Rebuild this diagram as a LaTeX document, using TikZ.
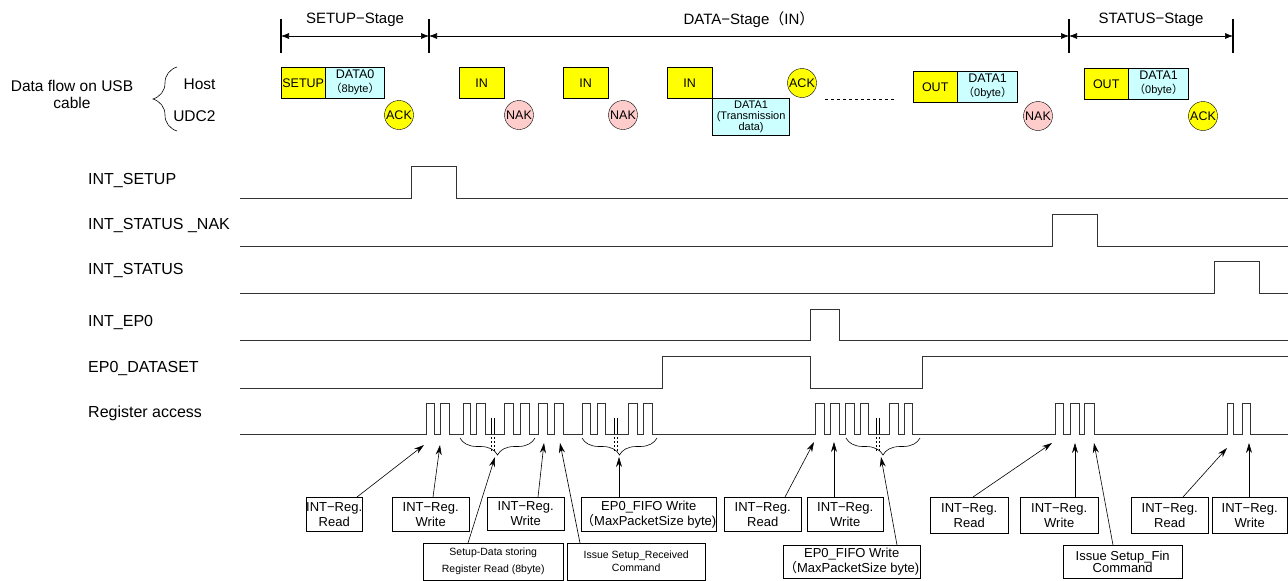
\documentclass[tikz,border=0pt]{standalone}
\usepackage{fontspec}
\setmainfont{Liberation Sans}
\newfontfamily\jpfont{Noto Sans CJK JP}
\usetikzlibrary{arrows.meta, decorations.pathreplacing}

\definecolor{TokenYellow}{RGB}{255,255,0}
\definecolor{DataCyan}{RGB}{204,255,255}
\definecolor{NakPink}{RGB}{255,204,204}
\colorlet{WaveColor}{black!80}

\newcommand{\fwparen}[1]{{\jpfont （}#1{\jpfont ）}}

\tikzset{
    token/.style     = {draw, fill=TokenYellow, anchor=north west, inner sep=0pt,
                        minimum height=31pt, font=\fontsize{12.5}{14}\selectfont},
    datapkt/.style   = {draw, fill=DataCyan, anchor=north west, inner sep=0pt,
                        minimum height=31pt, align=center, font=\fontsize{12.5}{14}\selectfont},
    handshake/.style = {draw, circle, inner sep=0pt, minimum size=29pt,
                        font=\fontsize{12.5}{14}\selectfont},
    stagebar/.style  = {line width=1.6pt},
    dimline/.style   = {{Latex[length=8pt, width=6pt]}-{Latex[length=8pt, width=6pt]}, line width=0.6pt},
    stagename/.style = {midway, yshift=16pt, font=\fontsize{15}{17}\selectfont},
    signame/.style   = {anchor=west, inner sep=0pt, font=\fontsize{16}{18}\selectfont},
    wave/.style      = {draw=WaveColor, line width=0.9pt},
    regbrace/.style  = {decorate, decoration={brace, amplitude=17pt}, line width=0.6pt},
    regbox/.style    = {draw, fill=white, anchor=north west, inner sep=0pt, minimum height=34pt,
                        align=center, font=\fontsize{13}{15}\selectfont},
    ptr/.style       = {-{Stealth[length=10pt, width=6pt]}, line width=0.6pt},
}

\begin{document}
\begin{tikzpicture}[x=1pt, y=-1pt]
    \useasboundingbox (0,0) rectangle (1288,581);

    \def\xstart{240}
    \def\xend{1288}

    % Etapas de la transferencia
    \foreach \x [count=\i] in {281,429,1069,1233} {
        \draw[stagebar] (\x,19) -- (\x,53);
        \coordinate (s\i) at (\x,36);
    }
    \draw[dimline] (s1) -- (s2) node[stagename] (stsetup) {SETUP−Stage};
    \draw[dimline] (s2) -- (s3) node[stagename] (stdata) {DATA−Stage\fwparen{IN}};
    \draw[dimline] (s3) -- (s4) node[stagename] (ststatus) {STATUS−Stage};

    % Flujo de paquetes en el cable
    \node[align=center, font=\fontsize{15.5}{17}\selectfont] (flow) at (72,94) {Data flow on USB\\cable};
    \node[anchor=east, font=\fontsize{15.5}{17}\selectfont] (host) at (219,84) {Host};
    \node[anchor=east, font=\fontsize{15.5}{17}\selectfont] (udc) at (219,116) {UDC2};
    \draw[decorate, decoration={brace, amplitude=24pt}, line width=0.6pt] (177,131) -- (177,67);

    \node[token, minimum width=44pt] (setup) at (281,67) {SETUP};
    \node[datapkt, minimum width=59pt] (data0) at (setup.north east)
        {DATA0\\{\fontsize{11}{12}\selectfont\fwparen{8byte}}};
    \node[handshake, fill=TokenYellow] (ack0) at (399,115) {ACK};

    \node[token, minimum width=45pt] (in1) at (459,67) {IN};
    \node[handshake, fill=NakPink] (nak1) at (519,115) {NAK};
    \node[token, minimum width=45pt] (in2) at (563,67) {IN};
    \node[handshake, fill=NakPink] (nak2) at (623,115) {NAK};
    \node[token, minimum width=45pt] (in3) at (667,67) {IN};
    \node[datapkt, minimum width=77pt, minimum height=37pt, font=\fontsize{11}{11}\selectfont]
        (data1) at (in3.south east) {DATA1\\(Transmission\\data)};
    \node[handshake, fill=TokenYellow] (ack1) at (802,83) {ACK};
    \draw[dashed, line width=0.6pt] (825,99) -- (895,99);

    \node[token, minimum width=44pt] (out1) at (913,71) {OUT};
    \node[datapkt, minimum width=60pt] (data2) at (out1.north east)
        {DATA1\\{\fontsize{11}{12}\selectfont\fwparen{0byte}}};
    \node[handshake, fill=NakPink] (nak3) at (1038,116) {NAK};

    \node[token, minimum width=44pt] (out2) at (1084,68) {OUT};
    \node[datapkt, minimum width=60pt] (data3) at (out2.north east)
        {DATA1\\{\fontsize{11}{12}\selectfont\fwparen{0byte}}};
    \node[handshake, fill=TokenYellow] (ack2) at (1203,116) {ACK};

    % Señales
    \node[signame] (nsetup) at (88,181) {INT\_SETUP};
    \draw[wave] (\xstart,198) -- (411,198) |- (456,166) |- (\xend,198);

    \node[signame] (nnak) at (88,226) {INT\_STATUS \_NAK};
    \draw[wave] (\xstart,246) -- (1052,246) |- (1097,214) |- (\xend,246);

    \node[signame] (nstatus) at (88,271) {INT\_STATUS};
    \draw[wave] (\xstart,293) -- (1214,293) |- (1259,261) |- (\xend,293);

    \node[signame] (nep0) at (88,322) {INT\_EP0};
    \draw[wave] (\xstart,340) -- (810,340) |- (839,309) |- (\xend,340);

    \node[signame] (ndataset) at (88,368) {EP0\_DATASET};
    \draw[wave] (\xstart,388) -- (662,388) |- (810,356) |- (922,388) |- (\xend,356);

    \node[signame] (nreg) at (88,413) {Register access};
    \draw[wave] (\xstart,434)
        foreach \a/\b in {426/434, 440/449, 463/470, 476/485, 504/513, 520/529,
                          538/547, 554/563, 582/590, 597/605, 628/637, 643/652,
                          815/824, 830/839, 845/854, 860/868, 889/898, 904/912,
                          1055/1063, 1070/1079, 1084/1094, 1227/1233, 1242/1250}
        { -- (\a,434) -- (\a,403) -- (\b,403) -- (\b,434) }
        -- (\xend,434);

    % Accesos omitidos
    \foreach \x in {493,616,878} {
        \draw[line width=0.5pt] (\x-1.5,418) -- (\x-1.5,434) (\x+1.5,418) -- (\x+1.5,434);
        \draw[line width=0.5pt, dash pattern=on 2pt off 2pt] (\x-1.5,437) -- (\x-1.5,452) (\x+1.5,437) -- (\x+1.5,452);
    }
    \draw[regbrace] (535,438) -- (460,438);
    \draw[regbrace] (657,438) -- (582,438);
    \draw[regbrace] (920,438) -- (846,438);

    % Etiquetas de acceso a registros
    \coordinate (tA) at (424,445);
    \coordinate (tB) at (440,445);
    \coordinate (tC) at (495,457);
    \coordinate (tD) at (544,443);
    \coordinate (tE) at (560,443);
    \coordinate (tF) at (619,457);
    \coordinate (tG) at (814,442);
    \coordinate (tH) at (834,442);
    \coordinate (tI) at (881,457);
    \coordinate (tJ) at (1052,443);
    \coordinate (tK) at (1075,443);
    \coordinate (tL) at (1094,443);
    \coordinate (tM) at (1227,448);
    \coordinate (tN) at (1249,443);

    \node[regbox, minimum width=55pt] (rdA) at (306,497) {INT−Reg.\\Read};
    \draw[ptr] ([xshift=51pt]rdA.north west) -- (tA);
    \node[regbox, minimum width=77pt] (wrA) at (392,497) {INT−Reg.\\Write};
    \draw[ptr] ([xshift=41pt]wrA.north west) -- (tB);
    \node[regbox, minimum width=140pt, minimum height=37pt, font=\fontsize{10.5}{17}\selectfont]
        (sdA) at (423,543) {Setup-Data storing\\Register Read (8byte)};
    \draw[ptr] ([xshift=45pt]sdA.north west) -- (tC);
    \node[regbox, minimum width=77pt, minimum height=33pt] (wrB) at (487,497) {INT−Reg.\\Write};
    \draw[ptr] ([xshift=51pt]wrB.north west) -- (tD);
    \node[regbox, minimum width=138pt, minimum height=37pt, font=\fontsize{10.5}{13}\selectfont]
        (scA) at (567,543) {Issue Setup\_Received\\Command};
    \draw[ptr] ([xshift=13pt]scA.north west) -- (tE);
    \node[regbox, minimum width=109pt] (fifoA) at (581,497) {EP0\_FIFO Write\\{\jpfont （}MaxPacketSize byte)};
    \draw[ptr] ([xshift=38pt]fifoA.north west) -- (tF);

    \node[regbox, minimum width=77pt] (rdB) at (724,497) {INT−Reg.\\Read};
    \draw[ptr] ([xshift=61pt]rdB.north west) -- (tG);
    \node[regbox, minimum width=76pt] (wrC) at (807,497) {INT−Reg.\\Write};
    \draw[ptr] ([xshift=27pt]wrC.north west) -- (tH);
    \node[regbox, minimum width=137pt, minimum height=33pt] (fifoB) at (783,545) {EP0\_FIFO Write\\{\jpfont （}MaxPacketSize byte)};
    \draw[ptr] ([xshift=114pt]fifoB.north west) -- (tI);

    \node[regbox, minimum width=78pt, minimum height=36pt] (rdC) at (930,497) {INT−Reg.\\Read};
    \draw[ptr] ([xshift=43pt]rdC.north west) -- (tJ);
    \node[regbox, minimum width=78pt, minimum height=36pt] (wrD) at (1020,497) {INT−Reg.\\Write};
    \draw[ptr] ([xshift=55pt]wrD.north west) -- (tK);
    \node[regbox, minimum width=119pt, minimum height=33pt, font=\fontsize{13}{12.5}\selectfont]
        (sfA) at (1063,545) {Issue Setup\_Fin\\Command};
    \draw[ptr] ([xshift=50pt]sfA.north west) -- (tL);
    \node[regbox, minimum width=77pt, minimum height=36pt] (rdD) at (1131,497) {INT−Reg.\\Read};
    \draw[ptr] ([xshift=52pt]rdD.north west) -- (tM);
    \node[regbox, minimum width=75pt, minimum height=36pt] (wrE) at (1212,497) {INT−Reg.\\Write};
    \draw[ptr] ([xshift=37pt]wrE.north west) -- (tN);
\end{tikzpicture}
\end{document}
